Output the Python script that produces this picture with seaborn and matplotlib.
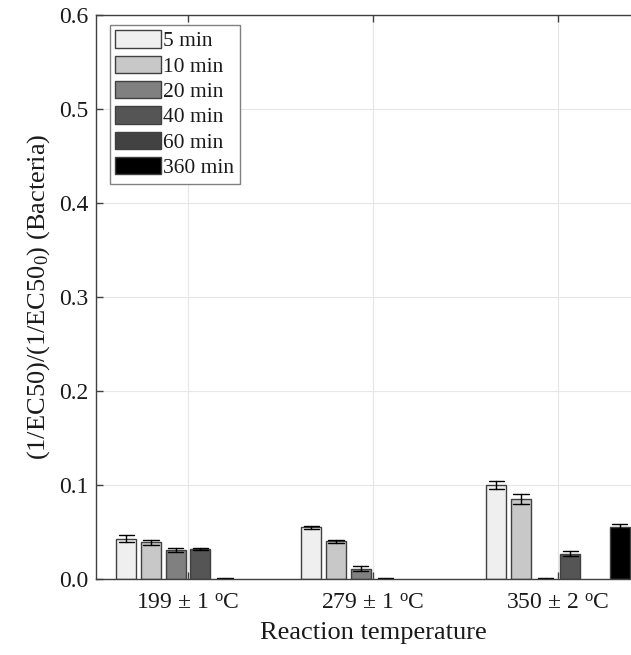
import numpy as np
import pandas as pd
import seaborn as sns
import matplotlib
matplotlib.use("Agg")
import matplotlib.pyplot as plt
from matplotlib.patches import Patch

# ---- data ----
temperatures = ["199 ± 1 $^{o}$C", "279 ± 1 $^{o}$C", "350 ± 2 $^{o}$C"]
times = ["5 min", "10 min", "20 min", "40 min", "60 min", "360 min"]
values_199 = [0.043, 0.039, 0.031, 0.032, 0.0, np.nan]
errors_199 = [0.004, 0.003, 0.002, 0.001, 0.001, np.nan]
values_279 = [0.055, 0.040, 0.011, 0.0, np.nan, np.nan]
errors_279 = [0.0018, 0.0015, 0.003, 0.001, np.nan, np.nan]
values_350 = [0.100, 0.085, 0.0, 0.027, np.nan, 0.055]
errors_350 = [0.004, 0.0055, 0.001, 0.0025, np.nan, 0.0035]
colors = ["#efefef", "#c8c8c8", "#808080", "#555555", "#424242", "#000000"]
y_ticks = [0.0, 0.1, 0.2, 0.3, 0.4, 0.5, 0.6]

rows = []
for temp, vals, errs in zip(temperatures, [values_199, values_279, values_350],
                            [errors_199, errors_279, errors_350]):
    for t, v, e in zip(times, vals, errs):
        if np.isnan(v):
            continue
        rows.append({"temp": temp, "time": t, "val": v - e})
        rows.append({"temp": temp, "time": t, "val": v + e})
df = pd.DataFrame(rows)

sns.set_theme(style="white")
plt.rcParams["font.family"] = ["Liberation Serif", "DejaVu Serif"]
plt.rcParams["mathtext.fontset"] = "custom"
plt.rcParams["mathtext.rm"] = "Liberation Serif"
plt.rcParams["mathtext.it"] = "Liberation Serif"
plt.rcParams["mathtext.default"] = "regular"

fig = plt.figure(figsize=(6.31, 6.55), dpi=100)
ax = fig.add_axes([95.5 / 631, 76 / 655, 555 / 631, 564 / 655])

palette = dict(zip(times, colors))
sns.barplot(data=df, x="temp", y="val", hue="time", order=temperatures,
            hue_order=times, palette=palette, estimator="mean",
            errorbar=lambda v: (v.min(), v.max()), capsize=0.5,
            err_kws={"color": "black", "linewidth": 1.0},
            edgecolor="#404040", linewidth=1.0, gap=0.18, width=0.8,
            saturation=1, legend=False, ax=ax)

for p in ax.patches:
    if abs(p.get_height()) < 1e-9:
        p.set_linewidth(0)

ax.set_xlim(-0.5, 2.5)
ax.set_ylim(0, 0.6)
ax.set_yticks(y_ticks)
ax.set_yticklabels([f"{t:.1f}" for t in y_ticks])
ax.grid(True, color="#e6e6e6", linewidth=0.8)
ax.set_axisbelow(True)
for s in ["left", "top", "bottom", "right"]:
    ax.spines[s].set_visible(True)
    ax.spines[s].set_color("#404040")
    ax.spines[s].set_linewidth(1.0)
ax.tick_params(direction="in", length=5, width=1, color="#404040",
               labelsize=17, labelcolor="#1a1a1a",
               top=True, bottom=True, left=True, right=False)
ax.tick_params(axis="y", pad=5)
ax.tick_params(axis="x", pad=10)
ax.set_xlabel("Reaction temperature", fontsize=19, color="#1a1a1a", labelpad=6)
ax.set_ylabel("(1/EC50)/(1/EC50$_0$) (Bacteria)", fontsize=19, color="#1a1a1a", labelpad=5)

handles = [Patch(facecolor=c, edgecolor="#404040", linewidth=1.0) for c in colors]
leg = ax.legend(handles, times, loc="upper left",
                bbox_to_anchor=((110 - 95.5) / 555, (579 - 25) / 564),
                fontsize=15.5, frameon=True, fancybox=False, framealpha=1,
                edgecolor="#808080", handlelength=2.1, handleheight=0.85,
                labelspacing=0.2, handletextpad=0.12, borderpad=0.25,
                borderaxespad=0)
leg.get_frame().set_linewidth(1.0)
for t in leg.get_texts():
    t.set_color("#1a1a1a")

fig.savefig("out.png", dpi=100)
